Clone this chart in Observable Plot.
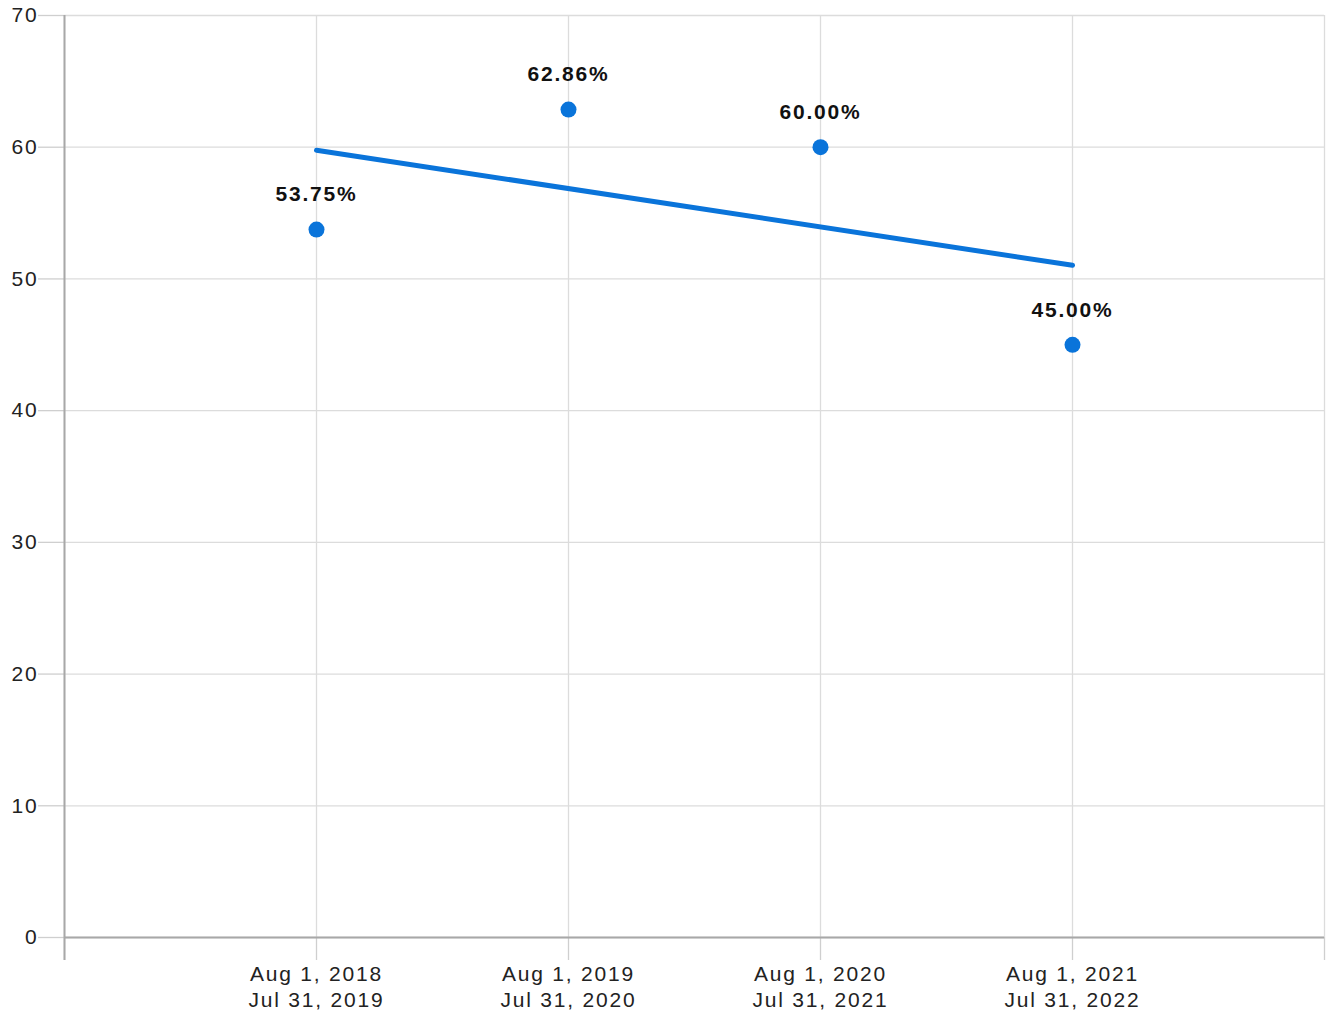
<!DOCTYPE html>
<html>
<head>
<meta charset="utf-8">
<script src="https://cdn.jsdelivr.net/npm/d3@7"></script>
<script src="https://cdn.jsdelivr.net/npm/@observablehq/plot@0.6"></script>
<style>
  html, body { margin: 0; padding: 0; background: #fff; }
  #chart svg { display: block; }
  #chart svg text { letter-spacing: 1.8px; }
</style>
</head>
<body>
<div id="chart"></div>
<script>
const periods = ["Aug 1, 2018\nJul 31, 2019", "Aug 1, 2019\nJul 31, 2020", "Aug 1, 2020\nJul 31, 2021", "Aug 1, 2021\nJul 31, 2022"];
const positions = [1, 2, 3, 4];
const values = [53.75, 62.86, 60.00, 45.00];
const valueLabels = ["53.75%", "62.86%", "60.00%", "45.00%"];
const yTicks = [0, 10, 20, 30, 40, 50, 60, 70];
const xTicks = [0, 1, 2, 3, 4, 5];

const data = positions.map((p, i) => ({x: p, y: values[i], label: valueLabels[i], period: periods[i]}));
const blue = "#0a74da";

const chart = Plot.plot({
  width: 1327,
  height: 1015,
  marginLeft: 64,
  marginRight: 3,
  marginTop: 15,
  marginBottom: 78,
  style: {fontFamily: "'Liberation Sans', Arial, sans-serif", background: "#fff"},
  x: {domain: [0, 5]},
  y: {domain: [0, 70]},
  marks: [
    Plot.gridX(xTicks, {stroke: "#dcdcdc", strokeOpacity: 1, strokeWidth: 1.3}),
    Plot.gridY(yTicks, {stroke: "#dcdcdc", strokeOpacity: 1, strokeWidth: 1.3}),
    Plot.axisY({ticks: yTicks, tickSize: 26, tickPadding: 0, stroke: "#cfcfcf", strokeWidth: 1.3, fontSize: 21, fill: "#222", label: null}),
    Plot.axisX({ticks: xTicks, tickSize: 23, tickPadding: 3, stroke: "#cfcfcf", strokeWidth: 1.3, fontSize: 21, fill: "#222", lineHeight: 1.2, label: null,
      tickFormat: d => (d >= 1 && d <= 4) ? periods[d - 1] : ""}),
    Plot.ruleX([0], {y1: 0, y2: 70, stroke: "#a8a8a8", strokeWidth: 2, insetTop: 23}),
    Plot.ruleY([0], {stroke: "#a8a8a8", strokeWidth: 2}),
    Plot.linearRegressionY(data, {x: "x", y: "y", ci: 0, stroke: blue, strokeWidth: 5}),
    Plot.dot(data, {x: "x", y: "y", r: 8, fill: blue, stroke: null}),
    Plot.text(data, {x: "x", y: "y", text: "label", dy: -35, fontSize: 21, fontWeight: "bold", fill: "#111"})
  ]
});
document.getElementById("chart").appendChild(chart);
</script>
</body>
</html>
